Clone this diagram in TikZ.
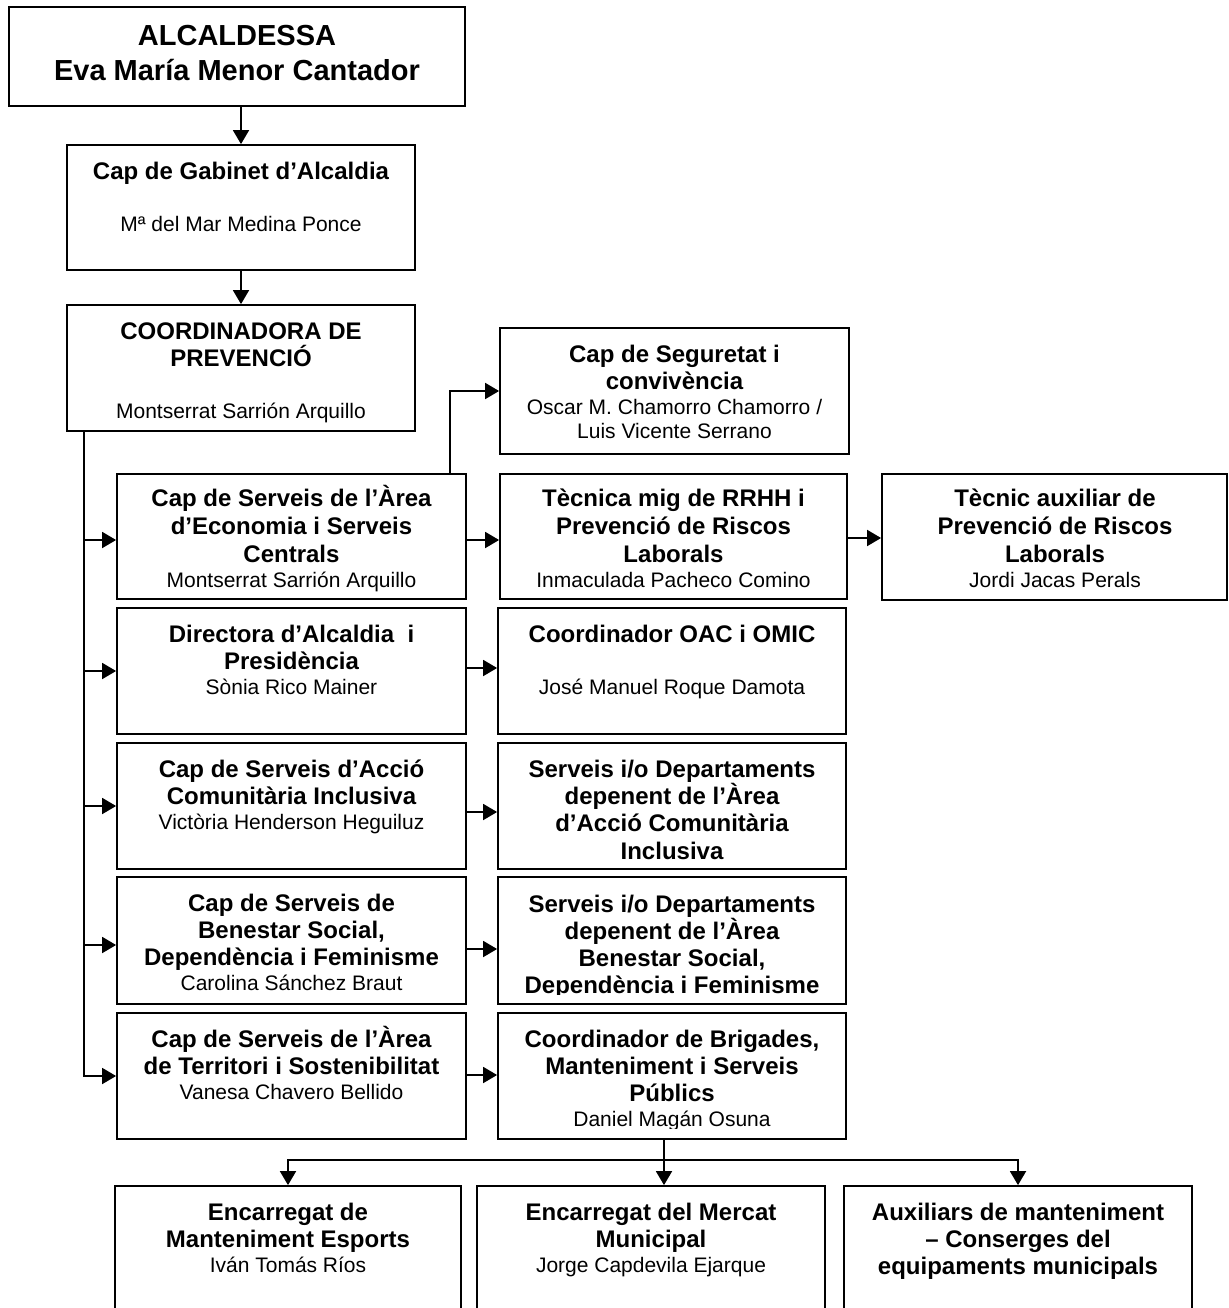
\documentclass[tikz,border=0pt]{standalone}
\usepackage{fontspec}
\setmainfont{Liberation Sans}
\usetikzlibrary{arrows.meta,calc}
\tikzset{
  orgbox/.style={draw=black, line width=1.8pt, inner sep=0pt, fill=white},
  tb/.style={font=\fontsize{24}{28}\selectfont\bfseries, inner sep=0pt, anchor=mid, yshift=-7pt},
  tbig/.style={font=\fontsize{29}{34}\selectfont\bfseries, inner sep=0pt, anchor=mid, yshift=-8pt},
  tn/.style={font=\fontsize{21}{25}\selectfont, inner sep=0pt, anchor=mid, yshift=-6pt},
  conn/.style={line width=1.8pt},
  arr/.style={line width=1.8pt, -{Triangle[length=14pt,width=16pt]}}
}
\newcommand\mkbox[5]{\node[orgbox, minimum width={#4-#2}, minimum height={#5-#3}] (#1) at ({(#2+#4)/2},{(#3+#5)/2}) {};}
\begin{document}
\begin{tikzpicture}[x=1pt,y=-1pt]
\useasboundingbox (0,0) rectangle (1228,1308);
\clip (0,0) rectangle (1228,1308);
\fill[white] (0,0) rectangle (1228,1308);
% boxes
\mkbox{alc}{9}{7}{465}{106}
\mkbox{gab}{67}{145}{415}{270}
\mkbox{coord}{67}{305}{415}{431}
\mkbox{seg}{500}{328}{849}{454}
\mkbox{econ}{117}{474}{466}{599}
\mkbox{tec}{500}{474}{847}{599}
\mkbox{aux}{882}{474}{1227}{600}
\mkbox{dir}{117}{608}{466}{734}
\mkbox{oac}{498}{608}{846}{734}
\mkbox{accio}{117}{743}{466}{869}
\mkbox{sacc}{498}{743}{846}{869}
\mkbox{ben}{117}{877}{466}{1004}
\mkbox{sben}{498}{877}{846}{1004}
\mkbox{terr}{117}{1013}{466}{1139}
\mkbox{brig}{498}{1013}{846}{1139}
\mkbox{esp}{115}{1186}{461}{1330}
\mkbox{merc}{477}{1186}{825}{1330}
\mkbox{auxm}{844}{1186}{1192}{1330}
% texts
\node[tbig] (alc-1) at (237,35) {ALCALDESSA};
\node[tbig] (alc-2) at (237,70) {Eva María Menor Cantador};
\node[tb] (gab-1) at (241,170) {Cap de Gabinet d’Alcaldia};
\node[tn] (gab-2) at (241,223) {Mª del Mar Medina Ponce};
\node[tb] (coord-1) at (241,330) {COORDINADORA DE};
\node[tb] (coord-2) at (241,357) {PREVENCIÓ};
\node[tn] (coord-3) at (241,410) {Montserrat Sarrión Arquillo};
\node[tb] (seg-1) at (674.5,353) {Cap de Seguretat i};
\node[tb] (seg-2) at (674.5,380) {convivència};
\node[tn] (seg-3) at (674.5,406) {Oscar M. Chamorro Chamorro /};
\node[tn] (seg-4) at (674.5,430) {Luis Vicente Serrano};
\node[tb] (econ-1) at (291.5,497) {Cap de Serveis de l’Àrea};
\node[tb] (econ-2) at (291.5,525) {d’Economia i Serveis};
\node[tb] (econ-3) at (291.5,553) {Centrals};
\node[tn] (econ-4) at (291.5,579) {Montserrat Sarrión Arquillo};
\node[tb] (tec-1) at (673.5,497) {Tècnica mig de RRHH i};
\node[tb] (tec-2) at (673.5,525) {Prevenció de Riscos};
\node[tb] (tec-3) at (673.5,553) {Laborals};
\node[tn] (tec-4) at (673.5,579) {Inmaculada Pacheco Comino};
\node[tb] (aux-1) at (1055,497) {Tècnic auxiliar de};
\node[tb] (aux-2) at (1055,525) {Prevenció de Riscos};
\node[tb] (aux-3) at (1055,553) {Laborals};
\node[tn] (aux-4) at (1055,579) {Jordi Jacas Perals};
\node[tb] (dir-1) at (291.5,633) {Directora d’Alcaldia\ \ i};
\node[tb] (dir-2) at (291.5,660) {Presidència};
\node[tn] (dir-3) at (291.5,686) {Sònia Rico Mainer};
\node[tb] (oac-1) at (672,633) {Coordinador OAC i OMIC};
\node[tn] (oac-2) at (672,686) {José Manuel Roque Damota};
\node[tb] (accio-1) at (291.5,768) {Cap de Serveis d’Acció};
\node[tb] (accio-2) at (291.5,795) {Comunitària Inclusiva};
\node[tn] (accio-3) at (291.5,821) {Victòria Henderson Heguiluz};
\node[tb] (sacc-1) at (672,768) {Serveis i/o Departaments};
\node[tb] (sacc-2) at (672,795) {depenent de l’Àrea};
\node[tb] (sacc-3) at (672,822) {d’Acció Comunitària};
\node[tb] (sacc-4) at (672,850) {Inclusiva};
\node[tb] (ben-1) at (291.5,902) {Cap de Serveis de};
\node[tb] (ben-2) at (291.5,929) {Benestar Social,};
\node[tb] (ben-3) at (291.5,956) {Dependència i Feminisme};
\node[tn] (ben-4) at (291.5,982) {Carolina Sánchez Braut};
\node[tb] (sben-1) at (672,903) {Serveis i/o Departaments};
\node[tb] (sben-2) at (672,930) {depenent de l’Àrea};
\node[tb] (sben-3) at (672,957) {Benestar Social,};
\begin{scope}
\clip (498,960) rectangle (846,994);
\node[tb] (sben-4) at (672,984) {Dependència i Feminisme};
\end{scope}
\node[tb] (terr-1) at (291.5,1038) {Cap de Serveis de l’Àrea};
\node[tb] (terr-2) at (291.5,1065) {de Territori i Sostenibilitat};
\node[tn] (terr-3) at (291.5,1091) {Vanesa Chavero Bellido};
\node[tb] (brig-1) at (672,1038) {Coordinador de Brigades,};
\node[tb] (brig-2) at (672,1065) {Manteniment i Serveis};
\node[tb] (brig-3) at (672,1092) {Públics};
\begin{scope}
\clip (498,1100) rectangle (846,1128);
\node[tn] (brig-4) at (672,1118) {Daniel Magán Osuna};
\end{scope}
\node[tb] (esp-1) at (288,1211) {Encarregat de};
\node[tb] (esp-2) at (288,1238) {Manteniment Esports};
\node[tn] (esp-3) at (288,1264) {Iván Tomás Ríos};
\node[tb] (merc-1) at (651,1211) {Encarregat del Mercat};
\node[tb] (merc-2) at (651,1238) {Municipal};
\node[tn] (merc-3) at (651,1264) {Jorge Capdevila Ejarque};
\node[tb] (auxm-1) at (1018,1211) {Auxiliars de manteniment};
\node[tb] (auxm-2) at (1018,1238) {– Conserges del};
\node[tb] (auxm-3) at (1018,1265) {equipaments municipals};
% connectors
\draw[arr] (gab.north |- alc.south) -- (gab.north);
\draw[arr] (coord.north |- gab.south) -- (coord.north);
\coordinate (tt) at ([xshift=18pt]coord.south west);
\draw[arr] (tt) |- (terr.west);
\draw[arr] (tt |- 0,540) -- (econ.west |- 0,540);
\draw[arr] (tt |- dir.west) -- (dir.west);
\draw[arr] (tt |- accio.west) -- (accio.west);
\draw[arr] (tt |- 0,945) -- (ben.west |- 0,945);
\draw[arr] ([xshift=-17pt]econ.north east) |- (seg.west);
\draw[arr] (econ.east |- 0,540) -- (tec.west |- 0,540);
\draw[arr] (tec.east |- 0,538) -- (aux.west |- 0,538);
\draw[arr] (dir.east |- 0,668) -- (oac.west |- 0,668);
\draw[arr] (accio.east |- 0,812) -- (sacc.west |- 0,812);
\draw[arr] (ben.east |- 0,949) -- (sben.west |- 0,949);
\draw[arr] (terr.east |- 0,1075) -- (brig.west |- 0,1075);
\coordinate (bsplit) at (664,1160);
\draw[conn] (brig.south -| bsplit) -- (bsplit);
\draw[arr] (bsplit) -- (bsplit |- merc.north);
\draw[arr] (bsplit) -| (esp.north);
\draw[arr] (bsplit) -| (auxm.north);
\end{tikzpicture}
\end{document}
